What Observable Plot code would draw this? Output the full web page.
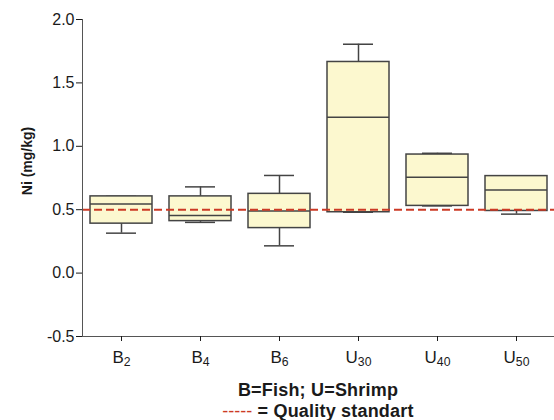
<!DOCTYPE html>
<html>
<head>
<meta charset="utf-8">
<script src="https://cdn.jsdelivr.net/npm/d3@7"></script>
<script src="https://cdn.jsdelivr.net/npm/@observablehq/plot@0.6"></script>
<style>
  body { margin: 0; background: #fff; font-family: "Liberation Sans", Arial, sans-serif; }
  #wrap { width: 554px; position: relative; }
  .cap { margin-left: 82px; width: 472px; text-align: center; font-weight: bold; font-size: 18px; letter-spacing: 0.2px; line-height: 21px; color: #1a1a1a; }
  .cap1 { margin-top: 8px; }
  .dash { color: #cc3a25; font-weight: normal; letter-spacing: 0px; }
</style>
</head>
<body>
<div id="wrap"></div>
<script>
const groups = ["B2", "B4", "B6", "U30", "U40", "U50"];
const q1 = [0.39, 0.41, 0.355, 0.48, 0.53, 0.49];
const median = [0.545, 0.455, 0.49, 1.23, 0.755, 0.655];
const q3 = [0.605, 0.605, 0.625, 1.665, 0.935, 0.765];
const whiskerLow = [0.315, 0.40, 0.215, 0.48, 0.53, 0.465];
const whiskerHigh = [0.605, 0.68, 0.77, 1.805, 0.945, 0.765];
const qualityStandard = 0.5;
const yTicks = [-0.5, 0, 0.5, 1.0, 1.5, 2.0];

const rows = groups.map((g, i) => ({
  g, q1: q1[i], med: median[i], q3: q3[i], lo: whiskerLow[i], hi: whiskerHigh[i]
}));

const stroke = "#444";
const plot = Plot.plot({
  width: 554,
  height: 372,
  marginLeft: 82,
  marginRight: -2,
  marginTop: 19,
  marginBottom: 36,
  style: { fontFamily: "'Liberation Sans', Arial, sans-serif", color: "#1a1a1a", background: "#fff" },
  x: { type: "band", domain: groups, paddingInner: 0.21, paddingOuter: 0.105 },
  y: { domain: [-0.5, 2.0] },
  marks: [
    Plot.ruleX(rows, { x: "g", y1: "lo", y2: "q1", stroke, strokeWidth: 1.5 }),
    Plot.ruleX(rows, { x: "g", y1: "q3", y2: "hi", stroke, strokeWidth: 1.5 }),
    Plot.tickY(rows, { x: "g", y: "lo", stroke, strokeWidth: 1.5, insetLeft: 16, insetRight: 16 }),
    Plot.tickY(rows, { x: "g", y: "hi", stroke, strokeWidth: 1.5, insetLeft: 16, insetRight: 16 }),
    Plot.barY(rows, { x: "g", y1: "q1", y2: "q3", fill: "#fcf8cf", stroke, strokeWidth: 1.5 }),
    Plot.tickY(rows, { x: "g", y: "med", stroke, strokeWidth: 1.5 }),
    Plot.ruleY([qualityStandard], { stroke: "#cc3a25", strokeWidth: 2, strokeDasharray: "8,4" }),
    Plot.ruleY([-0.5], { stroke: "#555", strokeWidth: 1 }),
    Plot.frame({ anchor: "left", stroke: "#555", strokeWidth: 1 }),
    Plot.axisY({ ticks: yTicks, tickFormat: d => d3.format(".1f")(d).replace("−", "-"), tickSize: 6, tickPadding: 2, fontSize: 16, label: null }),
    Plot.axisX({ tickSize: 5, tickPadding: 9, fontSize: 17, label: null })
  ]
});

// subscripts on x tick labels
d3.select(plot).selectAll('[aria-label="x-axis tick label"] text').each(function () {
  const t = this.textContent;
  const m = t.match(/^([A-Z])(\d+)$/);
  if (!m) return;
  const sel = d3.select(this);
  sel.text(null);
  sel.append("tspan").text(m[1]);
  sel.append("tspan").attr("dy", "0.3em").attr("font-size", "0.72em").text(m[2]);
});

// y axis title
d3.select(plot).append("text")
  .attr("transform", "translate(32,161) rotate(-90)")
  .attr("text-anchor", "middle")
  .attr("font-weight", "bold")
  .attr("font-size", 14)
  .attr("fill", "#1a1a1a")
  .text("Ni (mg/kg)");

const wrap = document.getElementById("wrap");
wrap.appendChild(plot);
const c1 = document.createElement("div");
c1.className = "cap cap1";
c1.textContent = "B=Fish; U=Shrimp";
const c2 = document.createElement("div");
c2.className = "cap";
c2.innerHTML = '<span class="dash">-----</span> = Quality standart';
wrap.appendChild(c1);
wrap.appendChild(c2);
</script>
</body>
</html>
